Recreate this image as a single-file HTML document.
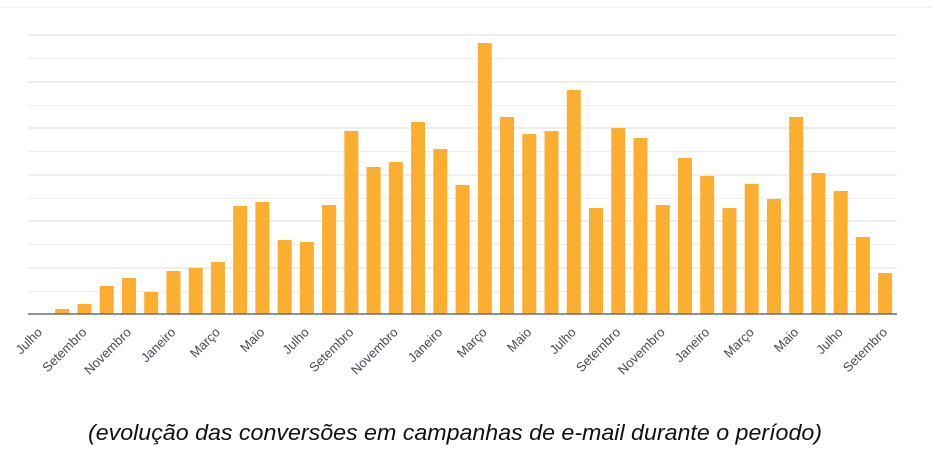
<!DOCTYPE html>
<html><head><meta charset="utf-8"><style>html,body{margin:0;padding:0;background:#fff;width:932px;height:467px;overflow:hidden}</style></head>
<body>
<svg width="932" height="467" xmlns="http://www.w3.org/2000/svg" font-family="Liberation Sans, sans-serif">
<line x1="0" y1="7.5" x2="932" y2="7.5" stroke="#efefef" stroke-width="1.5"/>
<g stroke-width="1">
<line x1="28" x2="897" y1="35" y2="35" stroke="#dcdcdc"/>
<line x1="28" x2="897" y1="58.5" y2="58.5" stroke="#efefef"/>
<line x1="28" x2="897" y1="82" y2="82" stroke="#dcdcdc"/>
<line x1="28" x2="897" y1="105.5" y2="105.5" stroke="#efefef"/>
<line x1="28" x2="897" y1="128" y2="128" stroke="#dcdcdc"/>
<line x1="28" x2="897" y1="151.5" y2="151.5" stroke="#efefef"/>
<line x1="28" x2="897" y1="175" y2="175" stroke="#dcdcdc"/>
<line x1="28" x2="897" y1="198.5" y2="198.5" stroke="#efefef"/>
<line x1="28" x2="897" y1="221" y2="221" stroke="#dcdcdc"/>
<line x1="28" x2="897" y1="244.5" y2="244.5" stroke="#efefef"/>
<line x1="28" x2="897" y1="268" y2="268" stroke="#dcdcdc"/>
<line x1="28" x2="897" y1="291.5" y2="291.5" stroke="#efefef"/>
</g>
<g fill="#fbae2f">
<rect x="55.24" y="309" width="14" height="5"/>
<rect x="77.48" y="304" width="14" height="10"/>
<rect x="99.72" y="286" width="14" height="28"/>
<rect x="121.96" y="278" width="14" height="36"/>
<rect x="144.2" y="292" width="14" height="22"/>
<rect x="166.44" y="271" width="14" height="43"/>
<rect x="188.68" y="268" width="14" height="46"/>
<rect x="210.92" y="262" width="14" height="52"/>
<rect x="233.16" y="206" width="14" height="108"/>
<rect x="255.4" y="202" width="14" height="112"/>
<rect x="277.64" y="240" width="14" height="74"/>
<rect x="299.88" y="242" width="14" height="72"/>
<rect x="322.12" y="205" width="14" height="109"/>
<rect x="344.36" y="131" width="14" height="183"/>
<rect x="366.6" y="167" width="14" height="147"/>
<rect x="388.84" y="162" width="14" height="152"/>
<rect x="411.08" y="122" width="14" height="192"/>
<rect x="433.32" y="149" width="14" height="165"/>
<rect x="455.56" y="185" width="14" height="129"/>
<rect x="477.8" y="43" width="14" height="271"/>
<rect x="500.04" y="117" width="14" height="197"/>
<rect x="522.28" y="134" width="14" height="180"/>
<rect x="544.52" y="131" width="14" height="183"/>
<rect x="566.76" y="90" width="14" height="224"/>
<rect x="589" y="208" width="14" height="106"/>
<rect x="611.24" y="128" width="14" height="186"/>
<rect x="633.48" y="138" width="14" height="176"/>
<rect x="655.72" y="205" width="14" height="109"/>
<rect x="677.96" y="158" width="14" height="156"/>
<rect x="700.2" y="176" width="14" height="138"/>
<rect x="722.44" y="208" width="14" height="106"/>
<rect x="744.68" y="184" width="14" height="130"/>
<rect x="766.92" y="199" width="14" height="115"/>
<rect x="789.16" y="117" width="14" height="197"/>
<rect x="811.4" y="173" width="14" height="141"/>
<rect x="833.64" y="191" width="14" height="123"/>
<rect x="855.88" y="237" width="14" height="77"/>
<rect x="878.12" y="273" width="14" height="41"/>
</g>
<line x1="28" x2="897" y1="314" y2="314" stroke="#6e6e6e" stroke-width="1.5"/>
<g font-size="13" fill="#4a4a55" text-anchor="end">
<text x="43" y="333" transform="rotate(-45 43 333)">Julho</text>
<text x="87.5" y="333" transform="rotate(-45 87.5 333)">Setembro</text>
<text x="132" y="333" transform="rotate(-45 132 333)">Novembro</text>
<text x="176.4" y="333" transform="rotate(-45 176.4 333)">Janeiro</text>
<text x="220.9" y="333" transform="rotate(-45 220.9 333)">Março</text>
<text x="265.4" y="333" transform="rotate(-45 265.4 333)">Maio</text>
<text x="309.9" y="333" transform="rotate(-45 309.9 333)">Julho</text>
<text x="354.4" y="333" transform="rotate(-45 354.4 333)">Setembro</text>
<text x="398.8" y="333" transform="rotate(-45 398.8 333)">Novembro</text>
<text x="443.3" y="333" transform="rotate(-45 443.3 333)">Janeiro</text>
<text x="487.8" y="333" transform="rotate(-45 487.8 333)">Março</text>
<text x="532.3" y="333" transform="rotate(-45 532.3 333)">Maio</text>
<text x="576.8" y="333" transform="rotate(-45 576.8 333)">Julho</text>
<text x="621.2" y="333" transform="rotate(-45 621.2 333)">Setembro</text>
<text x="665.7" y="333" transform="rotate(-45 665.7 333)">Novembro</text>
<text x="710.2" y="333" transform="rotate(-45 710.2 333)">Janeiro</text>
<text x="754.7" y="333" transform="rotate(-45 754.7 333)">Março</text>
<text x="799.2" y="333" transform="rotate(-45 799.2 333)">Maio</text>
<text x="843.6" y="333" transform="rotate(-45 843.6 333)">Julho</text>
<text x="888.1" y="333" transform="rotate(-45 888.1 333)">Setembro</text>
</g>
<text x="455" y="440" text-anchor="middle" font-size="22" font-style="italic" fill="#111" textLength="734" lengthAdjust="spacingAndGlyphs">(evolução das conversões em campanhas de e-mail durante o período)</text>
</svg>
</body></html>
